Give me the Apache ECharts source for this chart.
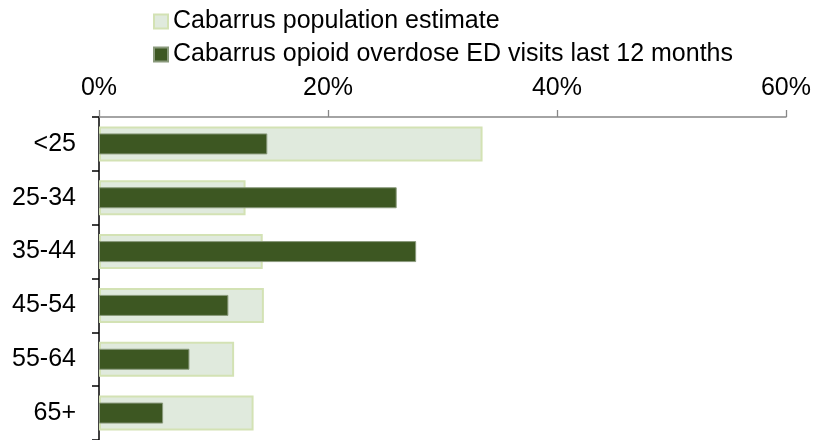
<!DOCTYPE html>
<html>
<head>
<meta charset="utf-8">
<script src="https://cdn.jsdelivr.net/npm/echarts@6/dist/echarts.min.js"></script>
<style>
html,body{margin:0;padding:0;background:#fff;}
#chart{width:814px;height:440px;}
</style>
</head>
<body>
<div id="chart"></div>
<script>
const categories = ['<25', '25-34', '35-44', '45-54', '55-64', '65+'];
const populationEstimate = [33.5, 12.8, 14.3, 14.4, 11.8, 13.5];
const opioidEDVisits = [14.7, 26.0, 27.7, 11.3, 7.9, 5.6];
const seriesNames = ['Cabarrus population estimate', 'Cabarrus opioid overdose ED visits last 12 months'];
const xTicks = { min: 0, max: 60, interval: 20 };

const FONT = '"Liberation Sans", Arial, Helvetica, sans-serif';
const FS = 25;
const chart = echarts.init(document.getElementById('chart'), null, { renderer: 'canvas' });
chart.setOption({
  animation: false,
  textStyle: { fontFamily: FONT },
  legend: {
    orient: 'vertical',
    left: 148,
    top: 4,
    itemWidth: 14,
    itemHeight: 14,
    itemGap: 8,
    icon: 'rect',
    textStyle: { fontFamily: FONT, fontSize: FS, color: '#000' },
    data: seriesNames
  },
  grid: { left: 99, right: 26, top: 117, bottom: -5, containLabel: false },
  xAxis: {
    type: 'value',
    position: 'top',
    min: xTicks.min,
    max: xTicks.max,
    interval: xTicks.interval,
    axisLine: { show: true, lineStyle: { color: '#868686', width: 1.5 } },
    axisTick: { show: true, inside: false, length: 7, lineStyle: { color: '#868686', width: 1.3 } },
    splitLine: { show: false },
    axisLabel: { formatter: '{value}%', fontSize: FS, color: '#000', fontFamily: FONT, margin: 16 }
  },
  yAxis: [
    {
      type: 'category',
      data: categories,
      inverse: true,
      axisLine: { show: true, lineStyle: { color: '#000', width: 1.5 } },
      axisTick: { show: true, length: 7, lineStyle: { color: '#000', width: 1.5 } },
      axisLabel: { fontSize: FS, color: '#000', fontFamily: FONT, margin: 23 }
    },
    {
      type: 'category',
      data: categories,
      inverse: true,
      show: false
    }
  ],
  series: [
    {
      name: seriesNames[0],
      type: 'bar',
      yAxisIndex: 0,
      data: populationEstimate,
      barWidth: 35,
      itemStyle: { color: '#e0eadd', borderColor: '#d3e2b4', borderWidth: 2 }
    },
    {
      name: seriesNames[1],
      type: 'bar',
      yAxisIndex: 1,
      data: opioidEDVisits,
      barWidth: 21,
      itemStyle: { color: '#3d5722', borderColor: '#8a9a7c', borderWidth: 1 }
    }
  ]
});
</script>
</body>
</html>
